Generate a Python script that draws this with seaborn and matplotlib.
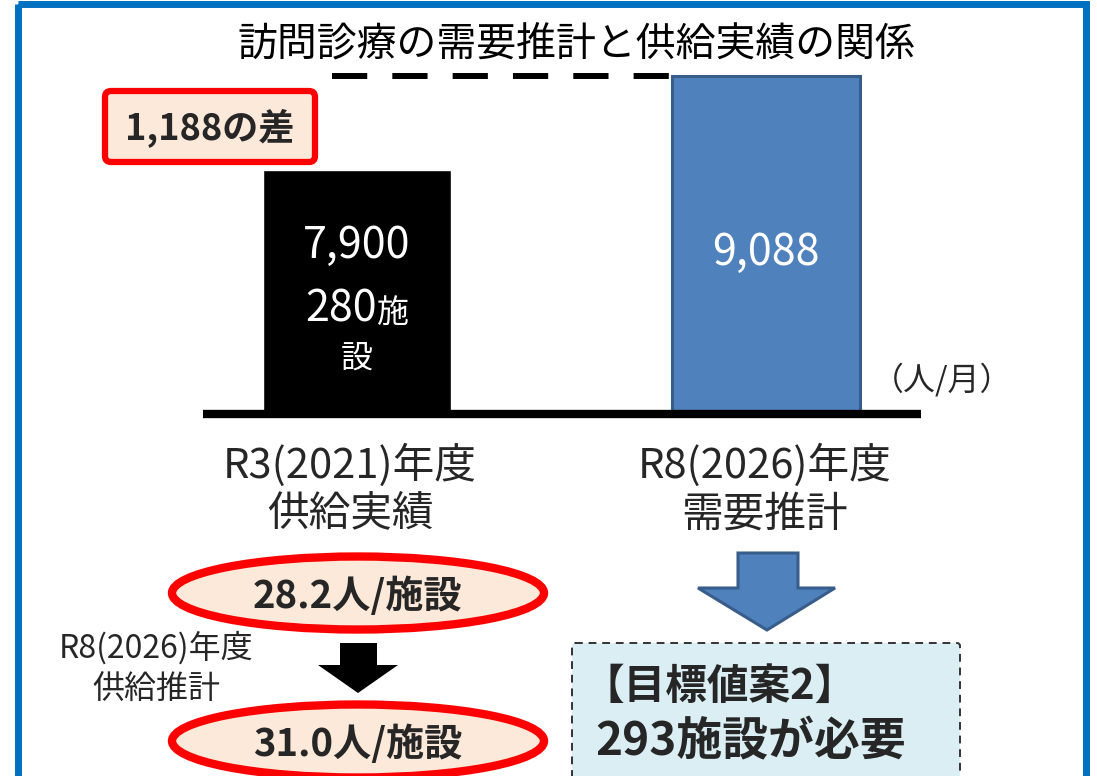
import matplotlib
matplotlib.use("Agg")
import matplotlib.pyplot as plt
from matplotlib.patches import Rectangle, FancyBboxPatch, Ellipse, Polygon
import seaborn as sns

# データ
categories = ["R3(2021)年度\n供給実績", "R8(2026)年度\n需要推計"]
values = [7900, 9088]
facilities = [280]
bar_colors = ["#000000", "#4F81BD"]
diff_label = "1,188の差"
title = "訪問診療の需要推計と供給実績の関係"
unit = "（人/月）"
per_facility = ["28.2人/施設", "31.0人/施設"]
supply_est_label = "R8(2026)年度\n供給推計"
target_lines = ["【目標値案2】", "293施設が必要"]

sns.set_theme(style="white")
plt.rcParams['font.family'] = ['Noto Sans CJK JP', 'DejaVu Sans']

W, H = 1097, 776
fig = plt.figure(figsize=(W / 100, H / 100), dpi=100)
fig.patch.set_facecolor("white")

# 棒グラフ部分
y_base = 4833
ax = fig.add_axes([203 / W, (H - 414) / H, (921 - 203) / W, (414 - 60) / H])
sns.barplot(x=categories, y=values, hue=categories, palette=bar_colors,
            width=0.46, legend=False, ax=ax, saturation=1)
ax.patches[1].set_edgecolor("#385D8A")
ax.patches[1].set_linewidth(2.2)
ax.set_xlim(-0.377, 1.380)
ax.set_ylim(y_base, 9283)
ax.axis("off")
base = ax.axhline(y_base, color="black", lw=6, clip_on=False, zorder=5)
base.set_solid_capstyle("butt")
ax.hlines(values[1], -0.062, ax.patches[1].get_x(), colors="black", lw=4.3,
          linestyles=(0, (5.9, 4.2)))

# 注釈レイヤー（ピクセル座標）
ov = fig.add_axes([0, 0, 1, 1])
ov.set_xlim(0, W)
ov.set_ylim(H, 0)
ov.axis("off")

ov.add_patch(Rectangle((18, 4), 1068, 900, fill=False, edgecolor="#0070C0", lw=5))

ov.text(576, 45, title, ha="center", va="center", fontsize=28.7, color="black")

ov.add_patch(FancyBboxPatch((105, 91), 210, 71, boxstyle="round,pad=0,rounding_size=6",
                            facecolor="#FDE9D9", edgecolor="#FF0000", lw=4.5))
ov.text(210, 128, diff_label, ha="center", va="center", fontsize=26, fontweight="bold")

# 棒ラベル
ov.text(357, 246, f"{values[0]:,}", ha="center", va="center", fontsize=31, color="white")
ov.text(377, 310, f"{facilities[0]}", ha="right", va="center", fontsize=31, color="white")
ov.text(377, 314, "施", ha="left", va="center", fontsize=23, color="white")
ov.text(357, 359, "設", ha="center", va="center", fontsize=23, color="white")
ov.text(766, 253, f"{values[1]:,}", ha="center", va="center", fontsize=31, color="white")
ov.text(1012, 380, unit, ha="right", va="center", fontsize=23)

# カテゴリラベル
for cx, lab in zip([350, 765], categories):
    l1, l2 = lab.split("\n")
    ov.text(cx, 465, l1, ha="center", va="center", fontsize=30)
    ov.text(cx, 515, l2, ha="center", va="center", fontsize=30)

# 楕円
for cy, txt in zip([593, 741], per_facility):
    ov.add_patch(Ellipse((358, cy), 372, 73, facecolor="#FDE9D9", edgecolor="#FF0000", lw=6))
    ov.text(358, cy + 3, txt, ha="center", va="center", fontsize=27.5, fontweight="bold")

# 黒矢印
ov.add_patch(Polygon([(340, 643), (377, 643), (377, 665), (398, 665), (358, 693),
                      (318, 665), (340, 665)], closed=True, facecolor="black", edgecolor="none"))
s1, s2 = supply_est_label.split("\n")
ov.text(156, 648, s1, ha="center", va="center", fontsize=23)
ov.text(156, 690, s2, ha="center", va="center", fontsize=23)

# 青矢印
ov.add_patch(Polygon([(738, 553), (798, 553), (798, 588), (835, 588), (767, 630),
                      (698, 588), (738, 588)], closed=True, facecolor="#4F81BD",
                     edgecolor="#385D8A", lw=2.2))

# 目標値ボックス
ov.add_patch(FancyBboxPatch((572, 643), 388, 200, boxstyle="round,pad=0,rounding_size=3",
                            facecolor="#DAEEF3", edgecolor="#333333", lw=1.4,
                            linestyle=(0, (4, 3))))
ov.text(583, 687, target_lines[0], ha="left", va="center", fontsize=30, fontweight="bold")
ov.text(595, 742, target_lines[1], ha="left", va="center", fontsize=33, fontweight="bold")

fig.savefig("out.png", dpi=100)
